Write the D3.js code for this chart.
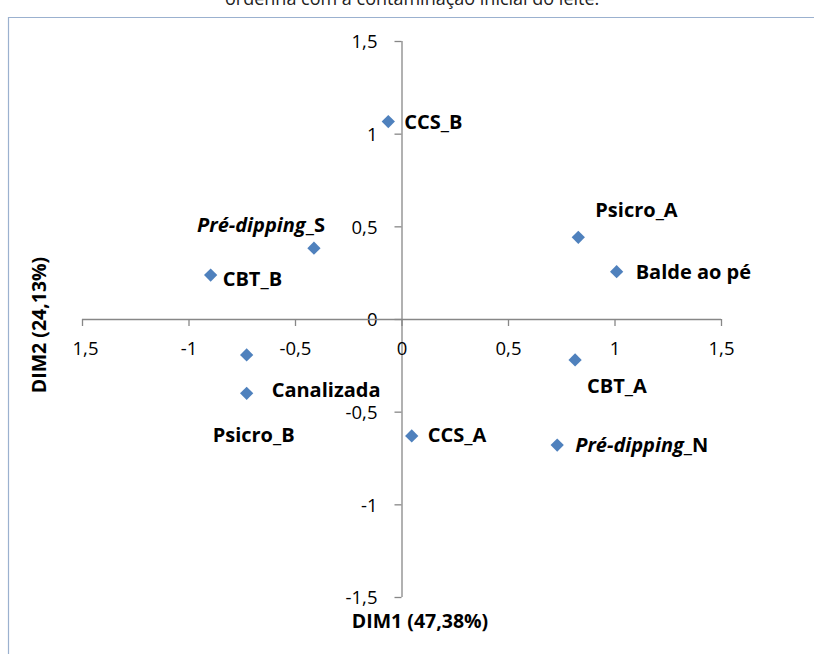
<!DOCTYPE html>
<html>
<head>
<meta charset="utf-8">
<script src="https://cdn.jsdelivr.net/npm/d3@7"></script>
<style>
  html, body { margin: 0; padding: 0; background: #fff; }
  svg { display: block; }
  text { font-family: "Open Sans", Lato, sans-serif; }
</style>
</head>
<body>
<svg id="chart" width="814" height="654"></svg>
<script>
// ---- data ----
const names = ["CCS_B", "Pré-dipping_S", "CBT_B", "Psicro_A", "Balde ao pé",
               "Psicro_B", "Canalizada", "CCS_A", "CBT_A", "Pré-dipping_N"];
const dim1 = [-0.062, -0.411, -0.896, 0.830, 1.010, -0.727, -0.727, 0.048, 0.815, 0.731];
const dim2 = [1.065, 0.382, 0.237, 0.441, 0.255, -0.194, -0.401, -0.631, -0.221, -0.680];
const tickValues = [-1.5, -1, -0.5, 0, 0.5, 1, 1.5];
const xTickLabels = ["1,5", "-1", "-0,5", "0", "0,5", "1", "1,5"];
const yTickLabels = ["-1,5", "-1", "-0,5", "0", "0,5", "1", "1,5"];
const xTitle = "DIM1 (47,38%)";
const yTitle = "DIM2 (24,13%)";
const captionText = "ordenha com a contaminação inicial do leite.";

// ---- layout (label placement in px relative to marker) ----
const labelPlacement = {
  "CCS_B":         {dx: 16,  dy: 0,   anchor: "start"},
  "Pré-dipping_S": {dx: 11,  dy: -23, anchor: "end"},
  "CBT_B":         {dx: 12,  dy: 4,   anchor: "start"},
  "Psicro_A":      {dx: 17,  dy: -27, anchor: "start"},
  "Balde ao pé":   {dx: 19,  dy: 0,   anchor: "start"},
  "Psicro_B":      {dx: -34, dy: 80,  anchor: "start"},
  "Canalizada":    {dx: 25,  dy: -4,  anchor: "start"},
  "CCS_A":         {dx: 16,  dy: -1,  anchor: "start"},
  "CBT_A":         {dx: 12,  dy: 26,  anchor: "start"},
  "Pré-dipping_N": {dx: 18,  dy: 0,   anchor: "start"}
};

const svg = d3.select("#chart");
const axisColor = "#878787";
const labelSize = 20;
const tickSize = 18.5;
const titleSize = 19.5;

// chart-area border (blue-grey)
svg.append("path")
  .attr("d", "M8.5,654 L8.5,17.5 L814,17.5")
  .attr("fill", "none").attr("stroke", "#9bb1cf").attr("stroke-width", 1.2);

// clipped caption from the document above the chart
svg.append("text").attr("x", 225).attr("y", 5)
  .attr("font-family", "Lato, sans-serif")
  .attr("font-size", 18).attr("fill", "#222").text(captionText);

const x = d3.scaleLinear().domain([-1.5, 1.5]).range([82, 721]);
const y = d3.scaleLinear().domain([-1.5, 1.5]).range([597, 41]);

// Y axis at x = 0
const yAxis = svg.append("g")
  .attr("transform", `translate(${x(0)},0)`)
  .call(d3.axisLeft(y).tickValues(tickValues).tickSize(7).tickPadding(17)
        .tickFormat((d, i) => yTickLabels[i]));
// X axis at y = 0
const xAxis = svg.append("g")
  .attr("transform", `translate(0,${y(0)})`)
  .call(d3.axisBottom(x).tickValues(tickValues).tickSize(7)
        .tickFormat((d, i) => xTickLabels[i]));

[xAxis, yAxis].forEach(g => {
  g.select(".domain").attr("stroke", axisColor).attr("stroke-width", 1.3);
  g.selectAll(".tick line").attr("stroke", axisColor).attr("stroke-width", 1.3);
  g.selectAll(".tick text").attr("fill", "#000").attr("font-size", tickSize)
    .attr("font-family", "'Open Sans', sans-serif");
});
xAxis.selectAll(".tick text").attr("y", 29).attr("dy", "0.36em")
  .attr("dx", (d, i) => i === 0 ? 3 : 0);
yAxis.selectAll(".tick text").attr("dy", "0.36em");
// domain paths without outer ticks
xAxis.select(".domain").attr("d", `M${x(-1.5)},0.5H${x(1.5)}`);
yAxis.select(".domain").attr("d", `M0.5,${y(1.5)}V${y(-1.5)}`);

// axis titles
svg.append("text").attr("x", 420).attr("y", 621).attr("dy", "0.36em")
  .attr("text-anchor", "middle").attr("font-weight", "bold")
  .attr("font-size", titleSize).attr("fill", "#000").text(xTitle);
svg.append("text")
  .attr("transform", "translate(39,325) rotate(-90)")
  .attr("dy", "0.36em").attr("text-anchor", "middle").attr("font-weight", "bold")
  .attr("font-size", titleSize).attr("fill", "#000").text(yTitle);

// markers
const pts = names.map((n, i) => ({name: n, x: dim1[i], y: dim2[i]}));
const diamond = d3.symbol().type(d3.symbolSquare).size(88);
svg.append("g").selectAll("path").data(pts).join("path")
  .attr("d", diamond)
  .attr("transform", d => `translate(${x(d.x)},${y(d.y)}) rotate(45)`)
  .attr("fill", "#4f81bd");

// labels
const lab = svg.append("g").selectAll("text").data(pts).join("text")
  .attr("x", d => x(d.x) + labelPlacement[d.name].dx)
  .attr("y", d => y(d.y) + labelPlacement[d.name].dy)
  .attr("dy", "0.36em")
  .attr("text-anchor", d => labelPlacement[d.name].anchor)
  .attr("font-weight", "bold").attr("font-size", labelSize).attr("fill", "#000");
lab.each(function(d) {
  const t = d3.select(this);
  const m = d.name.match(/^(Pré-dipping)(_.*)$/);
  if (m) {
    t.append("tspan").attr("font-style", "italic").text(m[1]);
    t.append("tspan").text(m[2]);
  } else {
    t.text(d.name);
  }
});
</script>
</body>
</html>
